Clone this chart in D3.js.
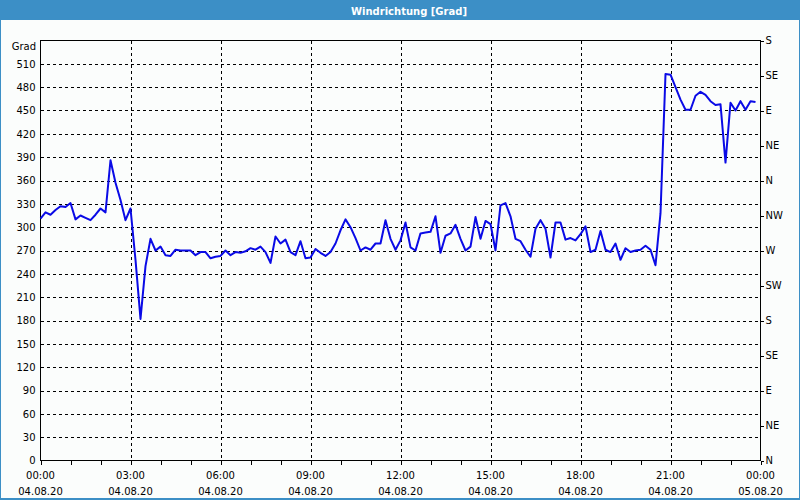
<!DOCTYPE html>
<html><head><meta charset="utf-8">
<script src="https://cdn.jsdelivr.net/npm/d3@7"></script>
<style>
html,body{margin:0;padding:0;background:#fff;}
svg{display:block;}
text{font-family:"DejaVu Sans",Verdana,sans-serif;}
</style></head>
<body>
<svg id="c" width="800" height="500"></svg>
<script>
const title = "Windrichtung [Grad]";
const unitLabel = "Grad";
const startTime = "2020-08-04T00:00:00";
const endTime = "2020-08-05T00:00:00";
const stepMinutes = 10;
const values = [
311,319,316,322,327,326,331,310,315,312,309,316,324,319,386,357,335,309,324,258,
182,250,285,270,275,264,263,271,270,270,270,264,268,268,260,262,263,270,264,268,
267,269,273,271,275,268,254,288,279,284,268,264,282,260,261,272,267,263,268,279,
296,310,300,286,270,274,271,279,279,309,285,271,283,306,274,270,292,293,294,314,
267,289,292,303,285,270,275,313,285,308,304,270,328,331,314,285,282,271,262,298,
309,298,261,306,306,284,286,283,291,301,268,271,295,271,268,279,258,273,268,270,
271,276,271,251,318,497,496,480,464,451,451,469,474,470,462,457,458,383,460,450,
462,451,462,461
];
const leftTicks = [0,30,60,90,120,150,180,210,240,270,300,330,360,390,420,450,480,510];
const rightTicks = [0,45,90,135,180,225,270,315,360,405,450,495,540];
const rightLabels = ["N","NE","E","SE","S","SW","W","NW","N","NE","E","SE","S"];

const svg = d3.select("#c");
const W = 800, H = 500;
const m = {l:40.5, r:760.5, t:40.5, b:460.5};
const parse = d3.isoParse;
const t0 = parse(startTime), t1 = parse(endTime);
const data = values.map((v,i)=>({t:new Date(t0.getTime()+i*stepMinutes*60000), v}));

const x = d3.scaleTime().domain([t0,t1]).range([m.l,m.r]);
const y = d3.scaleLinear().domain([0,540]).range([m.b,m.t]);

// background and frame
svg.append("rect").attr("x",0).attr("y",0).attr("width",W).attr("height",H).attr("fill","#3c8fc6");
svg.append("rect").attr("x",1).attr("y",20).attr("width",W-2).attr("height",H-22).attr("fill","#fbfdfc");
svg.append("text").attr("x",409).attr("y",14.5).attr("text-anchor","middle")
  .attr("fill","#fff").attr("font-weight","bold").attr("font-size","10px").text(title);

// grid
const hourTicks = d3.timeHour.every(3).range(t0, t1).concat([t1]);
const g = svg.append("g");
g.selectAll("line.hg").data(leftTicks.filter(d=>d>0)).join("line")
  .attr("x1",m.l).attr("x2",m.r).attr("y1",d=>Math.round(y(d))+0.5).attr("y2",d=>Math.round(y(d))+0.5)
  .attr("stroke","#000").attr("stroke-width",1).attr("stroke-dasharray","3,3").attr("shape-rendering","crispEdges");
g.selectAll("line.vg").data(hourTicks.slice(1,-1)).join("line")
  .attr("x1",d=>Math.round(x(d))+0.5).attr("x2",d=>Math.round(x(d))+0.5).attr("y1",m.t).attr("y2",m.b)
  .attr("stroke","#000").attr("stroke-width",1).attr("stroke-dasharray","3,3").attr("shape-rendering","crispEdges");

// plot frame
svg.append("rect").attr("x",m.l).attr("y",m.t).attr("width",m.r-m.l).attr("height",m.b-m.t)
  .attr("fill","none").attr("stroke","#000").attr("shape-rendering","crispEdges");

// left axis labels
const la = svg.append("g").attr("transform",`translate(${m.l},0)`)
  .call(d3.axisLeft(y).tickValues(leftTicks).tickSize(0).tickPadding(5));
la.select(".domain").remove();
la.selectAll("text").attr("font-size","10px").attr("fill","#000").attr("font-family","DejaVu Sans");
svg.append("text").attr("x",36).attr("y",50).attr("text-anchor","end").attr("font-size","10px").text(unitLabel);

// right axis
const ra = svg.append("g").attr("transform",`translate(${m.r},0)`)
  .call(d3.axisRight(y).tickValues(rightTicks).tickSize(3).tickPadding(2).tickFormat((d,i)=>rightLabels[i]));
ra.select(".domain").remove();
ra.selectAll("text").attr("font-size","10px").attr("fill","#000").attr("font-family","DejaVu Sans");
ra.selectAll("line").attr("shape-rendering","crispEdges");

// bottom axis
const ba = svg.append("g").attr("transform",`translate(0,${m.b})`)
  .call(d3.axisBottom(x).ticks(d3.timeHour.every(1)).tickSize(4).tickFormat(""));
ba.select(".domain").remove();
ba.selectAll("line").attr("shape-rendering","crispEdges");
const fmtT = d3.timeFormat("%H:%M"), fmtD = d3.timeFormat("%d.%m.%y");
const bl = svg.append("g");
bl.selectAll("text.t").data(hourTicks).join("text")
  .attr("x",d=>x(d)).attr("y",479).attr("text-anchor","middle").attr("font-size","10px").text(d=>fmtT(d));
bl.selectAll("text.d").data(hourTicks).join("text")
  .attr("x",d=>x(d)).attr("y",495).attr("text-anchor","middle").attr("font-size","10px").text(d=>fmtD(d));

// line
const line = d3.line().x(d=>x(d.t)).y(d=>y(d.v));
svg.append("path").datum(data).attr("d",line).attr("fill","none")
  .attr("stroke","#0a0ae6").attr("stroke-width",2).attr("stroke-linejoin","round");
</script>
</body></html>
